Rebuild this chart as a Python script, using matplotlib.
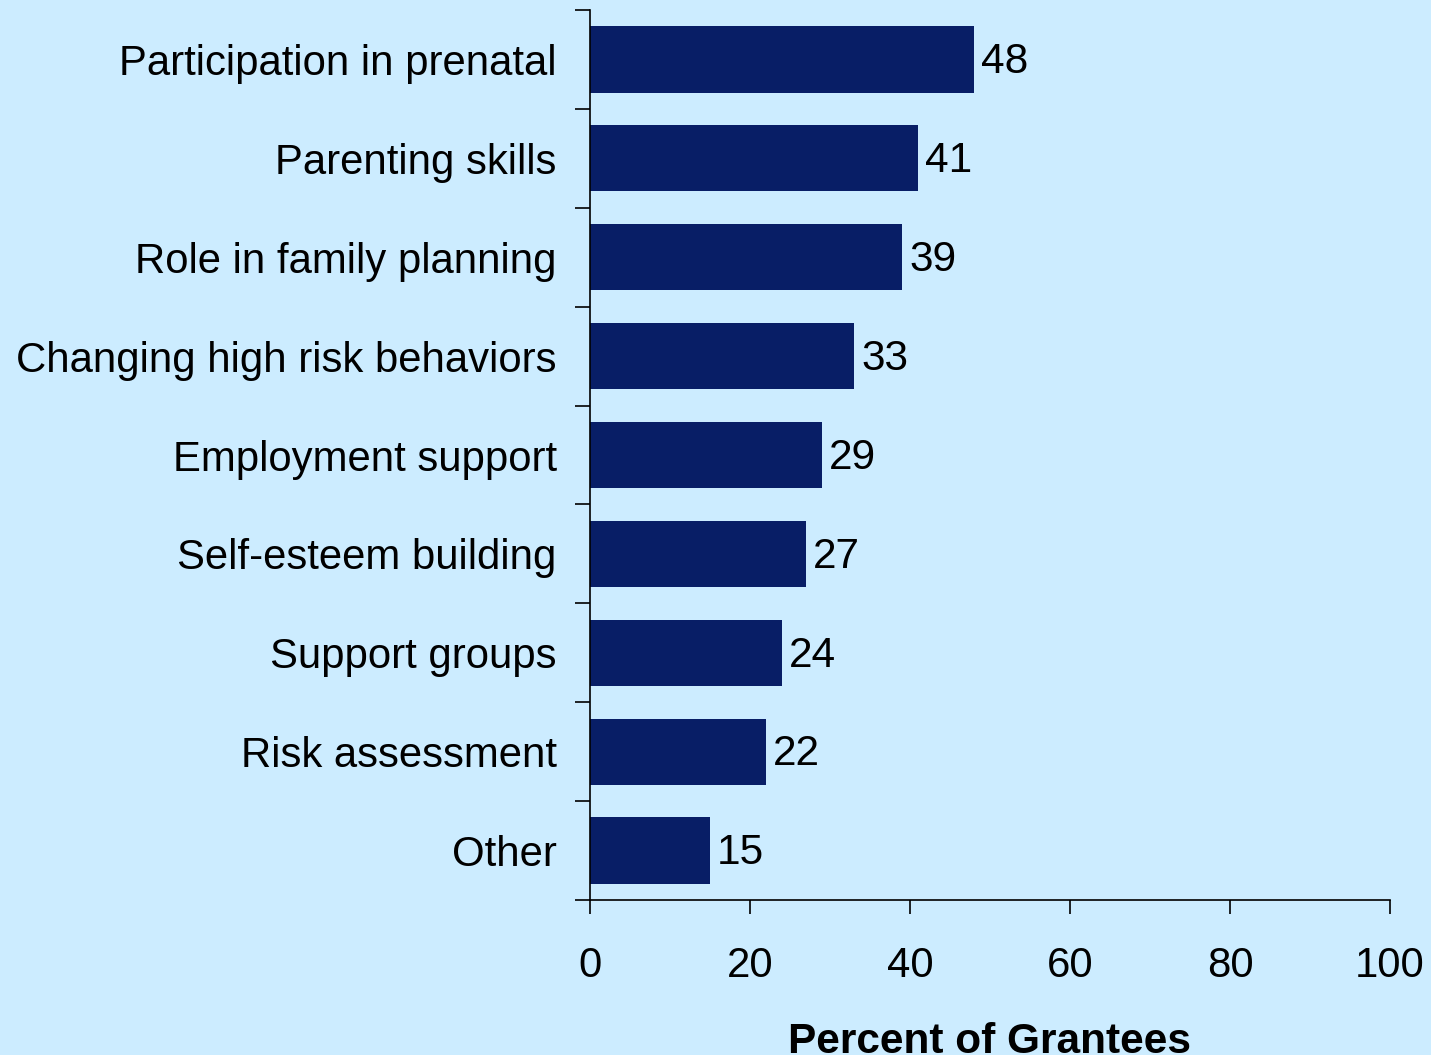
import matplotlib
matplotlib.use("Agg")
import matplotlib.pyplot as plt
import numpy as np

categories = ["Participation in prenatal", "Parenting skills", "Role in family planning",
              "Changing high risk behaviors", "Employment support", "Self-esteem building",
              "Support groups", "Risk assessment", "Other"]
values = [48, 41, 39, 33, 29, 27, 24, 22, 15]
xticks = [0, 20, 40, 60, 80, 100]
xlabel = "Percent of Grantees"

bg = "#CCECFF"
bar_color = "#081E66"
plt.rcParams['font.family'] = ['Liberation Sans', 'DejaVu Sans']

fig = plt.figure(figsize=(14.31, 10.55), dpi=100, facecolor=bg)
ax = fig.add_axes([590/1431, (1055-900)/1055, 800/1431, 890/1055], facecolor=bg)

n = len(categories)
y = np.arange(n)
ax.barh(y, values, height=0.67, color=bar_color, zorder=2)
ax.set_ylim(n - 0.5, -0.5)
ax.set_xlim(0, 100)

for yi, v in zip(y, values):
    ax.annotate(str(v), (v, yi), xytext=(5, -2), textcoords="offset points",
                va="center", ha="left", fontsize=30.5, color="black")

ax.set_yticks(y)
ax.set_yticklabels(categories, fontsize=30.2)
ax.tick_params(axis="y", which="major", length=0, pad=24)
ax.set_yticks(np.arange(n + 1) - 0.5, minor=True)
ax.tick_params(axis="y", which="minor", length=11, width=1.2, direction="out")

ax.set_xticks(xticks)
ax.set_xticklabels([str(t) for t in xticks], fontsize=30.2)
ax.tick_params(axis="x", length=10, width=1.2, direction="out", pad=23)

for s in ["top", "right"]:
    ax.spines[s].set_visible(False)
for s in ["left", "bottom"]:
    ax.spines[s].set_linewidth(1.2)

ax.set_xlabel(xlabel, fontsize=30.5, fontweight="bold", labelpad=26)

fig.savefig("out.png", dpi=100, facecolor=bg)
